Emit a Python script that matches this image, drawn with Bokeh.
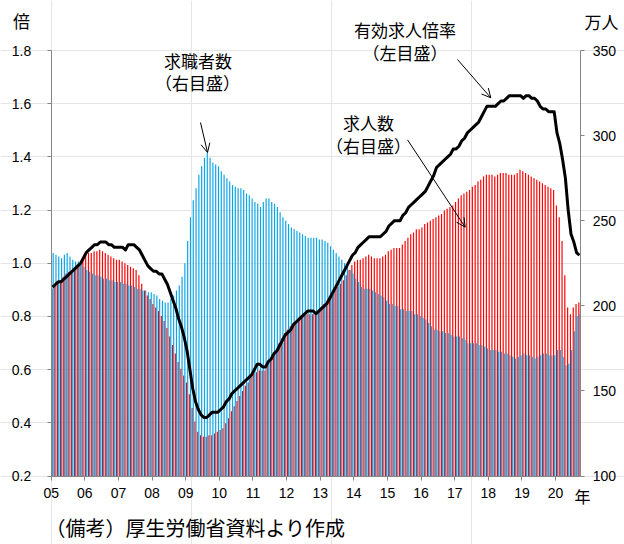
import numpy as np
from bokeh.plotting import figure
from bokeh.models import (Range1d, LinearAxis, FixedTicker, Label, Arrow, OpenHead,
                          ColumnDataSource, NumeralTickFormatter)
from bokeh.embed import file_html
from bokeh.resources import INLINE

# ---------------- data (monthly, Jan 2005 - Sep 2020) ----------------
year_labels = ["05", "06", "07", "08", "09", "10", "11", "12", "13",
               "14", "15", "16", "17", "18", "19", "20"]

# 有効求人倍率 (left axis, 倍)
ratio = [
    0.91, 0.92, 0.93, 0.93, 0.94, 0.95, 0.96, 0.97, 0.98, 0.99, 1.00, 1.02,  # 2005
    1.04, 1.05, 1.06, 1.07, 1.07, 1.08, 1.08, 1.08, 1.07, 1.07, 1.06, 1.06,  # 2006
    1.06, 1.06, 1.05, 1.07, 1.07, 1.07, 1.06, 1.05, 1.03, 1.01, 0.99, 0.98,  # 2007
    0.97, 0.97, 0.96, 0.96, 0.94, 0.92, 0.89, 0.86, 0.83, 0.79, 0.76, 0.72,  # 2008
    0.67, 0.60, 0.53, 0.48, 0.45, 0.43, 0.42, 0.42, 0.43, 0.44, 0.44, 0.44,  # 2009
    0.45, 0.46, 0.48, 0.49, 0.51, 0.52, 0.53, 0.54, 0.55, 0.56, 0.57, 0.58,  # 2010
    0.60, 0.62, 0.62, 0.61, 0.61, 0.63, 0.64, 0.66, 0.67, 0.69, 0.71, 0.73,  # 2011
    0.74, 0.75, 0.77, 0.78, 0.79, 0.80, 0.81, 0.82, 0.82, 0.82, 0.81, 0.82,  # 2012
    0.83, 0.84, 0.85, 0.87, 0.89, 0.91, 0.93, 0.95, 0.97, 0.99, 1.01, 1.03,  # 2013
    1.04, 1.06, 1.07, 1.08, 1.09, 1.10, 1.10, 1.10, 1.10, 1.10, 1.11, 1.12,  # 2014
    1.14, 1.15, 1.16, 1.16, 1.16, 1.18, 1.19, 1.21, 1.22, 1.23, 1.24, 1.25,  # 2015
    1.26, 1.27, 1.29, 1.31, 1.33, 1.36, 1.37, 1.38, 1.39, 1.40, 1.41, 1.43,  # 2016
    1.43, 1.44, 1.46, 1.47, 1.49, 1.50, 1.51, 1.52, 1.53, 1.55, 1.57, 1.59,  # 2017
    1.59, 1.59, 1.59, 1.60, 1.61, 1.61, 1.62, 1.63, 1.63, 1.63, 1.63, 1.63,  # 2018
    1.62, 1.63, 1.63, 1.62, 1.62, 1.61, 1.59, 1.58, 1.58, 1.57, 1.57, 1.57,  # 2019
    1.49, 1.45, 1.39, 1.32, 1.20, 1.11, 1.08, 1.04, 1.03,                    # 2020
]

# 求人数 (right axis, 万人)
openings = [
    210, 212, 214, 215, 217, 219, 220, 221, 222, 224, 225, 227,
    230, 231, 231, 232, 232, 233, 232, 231, 230, 229, 228, 227,
    227, 226, 225, 224, 223, 222, 221, 218, 213, 209, 206, 204,
    201, 199, 197, 194, 191, 187, 182, 177, 172, 167, 163, 159,
    155, 148, 140, 132, 126, 124, 123, 123, 124, 124, 125, 126,
    127, 128, 131, 134, 138, 141, 144, 147, 150, 153, 155, 158,
    160, 161, 162, 162, 162, 165, 168, 171, 174, 178, 181, 184,
    186, 188, 189, 191, 193, 194, 195, 195, 195, 195, 196, 197,
    199, 201, 203, 205, 207, 209, 211, 213, 215, 218, 221, 224,
    226, 227, 227, 228, 229, 230, 229, 228, 228, 228, 229, 230,
    232, 233, 234, 234, 234, 236, 238, 240, 242, 243, 245, 245,
    246, 248, 249, 250, 251, 252, 253, 254, 256, 257, 258, 259,
    261, 263, 265, 266, 267, 268, 270, 271, 273, 274, 276, 277,
    277, 277, 276, 277, 278, 278, 278, 277, 277, 277, 278, 280,
    279, 278, 277, 276, 275, 274, 273, 272, 271, 270, 269, 268,
    259, 252, 238, 218, 199, 195, 199, 201, 202,
]

# 求職者数 (right axis, 万人)
seekers = [
    231, 230, 229, 228, 230, 231, 229, 227, 226, 226, 225, 223,
    221, 220, 219, 218, 218, 217, 216, 216, 215, 215, 214, 214,
    214, 213, 213, 212, 212, 211, 210, 210, 209, 209, 208, 208,
    207, 206, 204, 203, 202, 202, 204, 206, 209, 212, 217, 225,
    238, 252, 262, 269, 277, 282, 287, 290, 287, 284, 283, 282,
    279, 277, 275, 273, 271, 270, 269, 269, 268, 266, 265, 263,
    261, 260, 258, 261, 263, 263, 261, 260, 258, 255, 252, 250,
    248, 246, 245, 244, 243, 242, 241, 240, 240, 240, 240, 239,
    239, 238, 237, 235, 233, 231, 229, 227, 225, 223, 221, 219,
    216, 214, 211, 210, 210, 210, 209, 208, 207, 206, 205, 203,
    201, 201, 200, 200, 198, 198, 197, 197, 197, 195, 195, 194,
    193, 192, 190, 188, 186, 186, 185, 185, 184, 184, 183, 182,
    182, 182, 181, 180, 178, 178, 178, 178, 177, 177, 176, 175,
    174, 174, 174, 173, 173, 172, 172, 171, 170, 169, 170, 171,
    172, 171, 171, 170, 169, 170, 171, 172, 172, 171, 171, 171,
    174, 174, 170, 165, 166, 174, 185, 194, 195,
]

left_ticks = [0.2, 0.4, 0.6, 0.8, 1.0, 1.2, 1.4, 1.6, 1.8]
right_ticks = [100, 150, 200, 250, 300, 350]

n = len(ratio)
xc = np.arange(n) + 0.5

src = ColumnDataSource(dict(
    xr=xc - 0.2, xb=xc + 0.2, x=xc,
    openings=openings, seekers=seekers, ratio=ratio,
))

JP = "Noto Sans CJK JP"
NUM = "Liberation Sans"
AX = "#868686"

W, H = 624, 544
# plot area of the chart on the canvas (pixels)
L_PX, R_PX, T_PX, B_PX = 50.7, 580.3, 50.0, 475.5
pxx = (R_PX - L_PX) / n                       # pixels per month
pyl = (B_PX - T_PX) / (left_ticks[-1] - left_ticks[0])
pyr = (B_PX - T_PX) / (right_ticks[-1] - right_ticks[0])

x_rng = Range1d(-L_PX / pxx, (W - L_PX) / pxx)
yl_rng = Range1d(left_ticks[0] - (H - B_PX) / pyl, left_ticks[0] + B_PX / pyl)
yr_rng = Range1d(right_ticks[0] - (H - B_PX) / pyr, right_ticks[0] + B_PX / pyr)

p = figure(width=W, height=H, output_backend="svg", toolbar_location=None,
           x_range=x_rng, y_range=yl_rng,
           x_axis_location=None, y_axis_location=None,
           min_border=0)
p.extra_y_ranges = {"right": yr_rng}
p.outline_line_color = None
p.background_fill_color = "white"
p.border_fill_color = "white"

p.vbar(x="xr", width=0.42, top="openings", bottom=right_ticks[0], source=src,
       y_range_name="right", fill_color="#FF0000", line_color=None)
p.vbar(x="xb", width=0.42, top="seekers", bottom=right_ticks[0], source=src,
       y_range_name="right", fill_color="#0AA5E6", line_color=None)
p.line(x="x", y="ratio", source=src, line_width=3, line_color="black",
       line_join="round")

def style(ax, standoff):
    ax.axis_line_color = AX
    ax.major_tick_line_color = AX
    ax.minor_tick_line_color = None
    ax.major_tick_out = 4
    ax.major_tick_in = 0
    ax.major_label_text_font = NUM
    ax.major_label_text_font_size = "14px"
    ax.major_label_text_color = "black"
    ax.major_label_standoff = standoff

yleft = LinearAxis(ticker=FixedTicker(ticks=left_ticks),
                   formatter=NumeralTickFormatter(format="0.0"),
                   fixed_location=0, bounds=(left_ticks[0], left_ticks[-1]))
style(yleft, 16)
p.add_layout(yleft, "left")

yright = LinearAxis(y_range_name="right", ticker=FixedTicker(ticks=right_ticks),
                    fixed_location=n, bounds=(right_ticks[0], right_ticks[-1]))
style(yright, 8)
p.add_layout(yright, "right")

xaxis = LinearAxis(ticker=FixedTicker(ticks=[12 * i for i in range(len(year_labels))]),
                   fixed_location=left_ticks[0], bounds=(0, n))
xaxis.major_label_overrides = {12 * i: s for i, s in enumerate(year_labels)}
style(xaxis, 8)
p.add_layout(xaxis, "below")

def dx(px):
    return (px - L_PX) / pxx

def dy(py):
    return left_ticks[0] + (B_PX - py) / pyl

def lab(px, py, t, size="17px", align="center"):
    p.add_layout(Label(x=dx(px), y=dy(py), text=t, text_align=align,
                       text_baseline="middle", text_font=JP,
                       text_font_size=size, text_color="black"))

lab(21, 19.5, "倍")
lab(601, 21, "万人")
lab(582, 495, "年", size="16px")
lab(197.5, 60, "求職者数")
lab(197, 82, "（右目盛）")
lab(404.5, 29, "有効求人倍率")
lab(404.5, 52, "（左目盛）")
lab(368, 122, "求人数")
lab(368, 145, "（右目盛）")
lab(45, 527, "（備考）厚生労働省資料より作成", size="20px", align="left")

def arrow(x0, y0, x1, y1):
    p.add_layout(Arrow(end=OpenHead(size=9, line_width=1, line_color="black"),
                       x_start=dx(x0), y_start=dy(y0), x_end=dx(x1), y_end=dy(y1),
                       line_width=1, line_color="black"))

arrow(200, 122, 207, 152)
arrow(457, 59, 490.3, 97.3)
arrow(407, 139.3, 464.7, 226.7)

open("out.html", "w").write(file_html(p, INLINE))
